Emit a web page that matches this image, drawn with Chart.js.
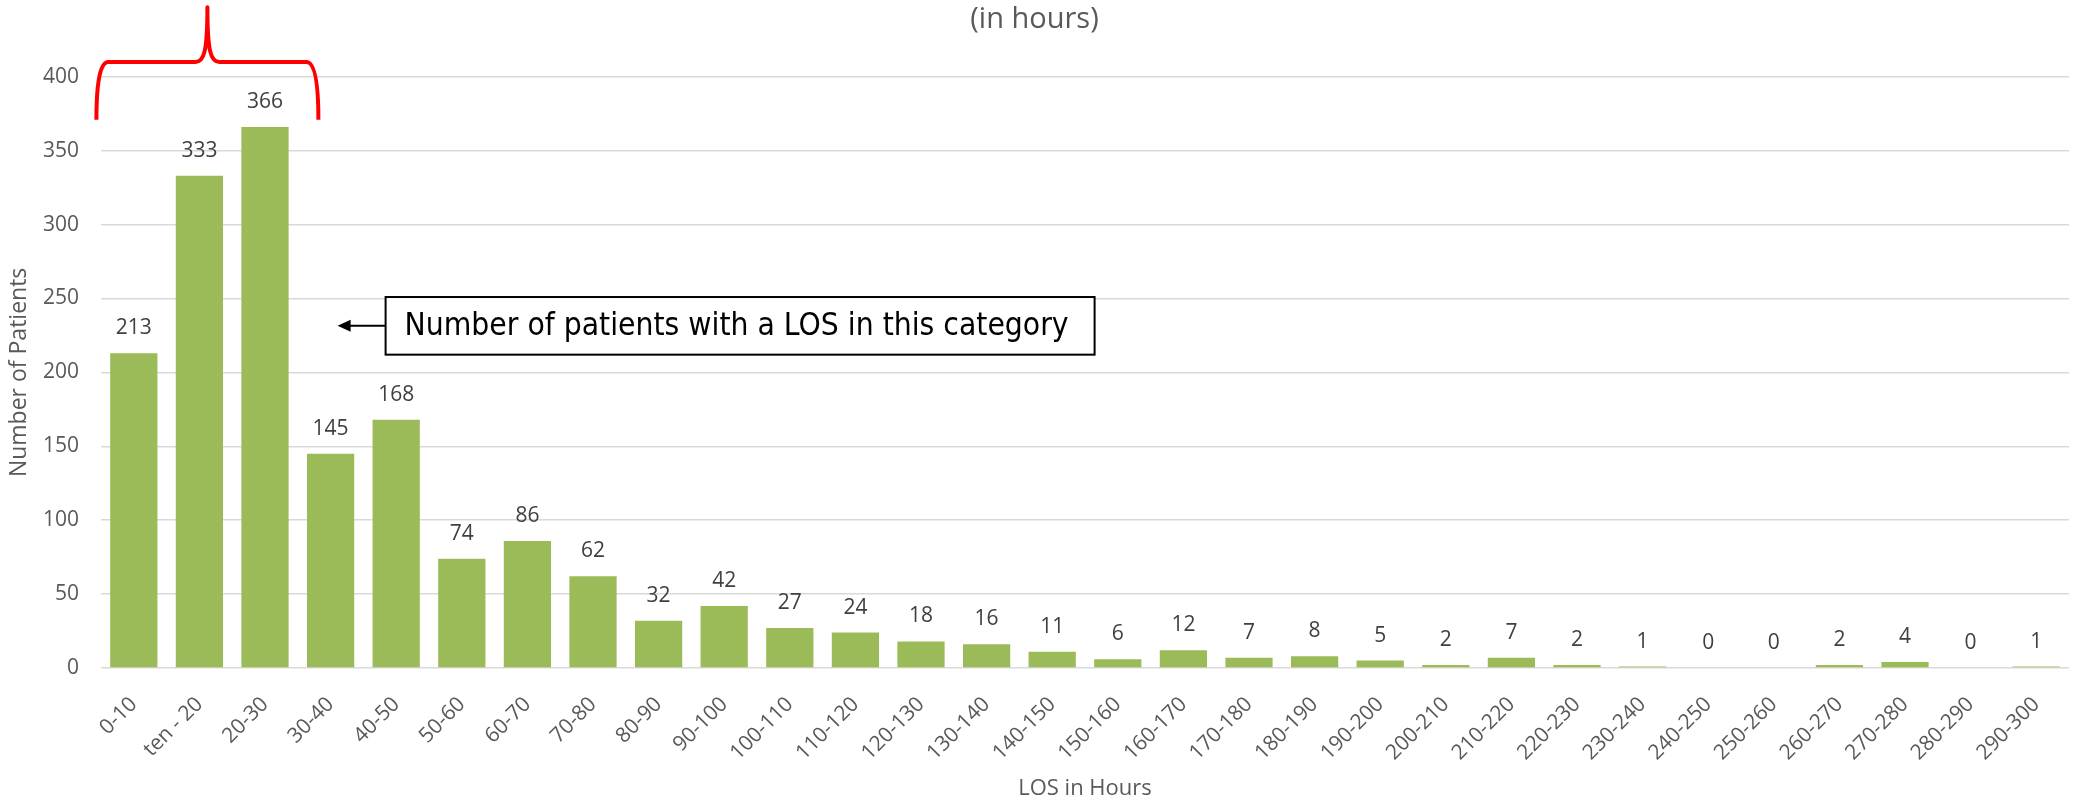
<!DOCTYPE html>
<html>
<head>
<meta charset="utf-8">
<script src="https://cdn.jsdelivr.net/npm/chart.js@4.4.1/dist/chart.umd.min.js"></script>
<style>
html, body { margin: 0; padding: 0; background: #fff; }
</style>
</head>
<body>
<canvas id="losChart" width="2078" height="803"></canvas>
<script>
// LOS categories (hours) and number of patients in each
const losLabels = ['0-10', 'ten - 20', '20-30', '30-40', '40-50', '50-60', '60-70', '70-80', '80-90', '90-100',
    '100-110', '110-120', '120-130', '130-140', '140-150', '150-160', '160-170', '170-180', '180-190', '190-200',
    '200-210', '210-220', '220-230', '230-240', '240-250', '250-260', '260-270', '270-280', '280-290', '290-300'];
const patientCounts = [213, 333, 366, 145, 168, 74, 86, 62, 32, 42,
    27, 24, 18, 16, 11, 6, 12, 7, 8, 5,
    2, 7, 2, 1, 0, 0, 2, 4, 0, 1];
const yMax = 400;
const yStep = 50;

const chartTitle = '(in hours)';
const xTitle = 'LOS in Hours';
const yTitle = 'Number of Patients';
const noteText = 'Number of patients with a LOS in this category';

const grey = '#595959';
const fontName = "'Open Sans', sans-serif";

// values over every bar
const barValues = {
    id: 'barValues',
    afterDatasetsDraw(chart) {
        const ctx = chart.ctx;
        const meta = chart.getDatasetMeta(0);
        ctx.save();
        ctx.font = '21px ' + fontName;
        ctx.fillStyle = '#404040';
        ctx.textAlign = 'center';
        ctx.textBaseline = 'alphabetic';
        meta.data.forEach((bar, i) => {
            ctx.fillText(String(patientCounts[i]), bar.x, bar.y - 19);
        });
        ctx.restore();
    }
};

// red brace over the first bars + note box with arrow
const notes = {
    id: 'notes',
    afterDraw(chart) {
        const ctx = chart.ctx;
        const x = chart.scales.x;
        const y = chart.scales.y;

        // brace
        const cx = x.getPixelForValue(1) + 8;
        const hw = 111;
        const yTip = y.getPixelForValue(447);
        const yMid = y.getPixelForValue(410);
        const yBot = y.getPixelForValue(371);
        const r = 12;
        ctx.save();
        ctx.strokeStyle = '#ff0000';
        ctx.lineWidth = 4;
        ctx.lineJoin = 'round';
        ctx.beginPath();
        ctx.moveTo(cx - hw, yBot);
        ctx.bezierCurveTo(cx - hw, yMid + 30, cx - hw + 2, yMid, cx - hw + r, yMid);
        ctx.lineTo(cx - r, yMid);
        ctx.bezierCurveTo(cx - 3, yMid, cx, yMid - 12, cx, yTip);
        ctx.bezierCurveTo(cx, yMid - 12, cx + 3, yMid, cx + r, yMid);
        ctx.lineTo(cx + hw - r, yMid);
        ctx.bezierCurveTo(cx + hw - 2, yMid, cx + hw, yMid + 30, cx + hw, yBot);
        ctx.stroke();
        ctx.restore();

        // note box
        const tipX = x.getPixelForValue(3) + 7;
        const boxL = tipX + 48;
        const boxW = 709;
        const boxT = y.getPixelForValue(251);
        const boxB = y.getPixelForValue(212);
        const midY = (boxT + boxB) / 2;
        ctx.save();
        ctx.fillStyle = '#fff';
        ctx.fillRect(boxL, boxT, boxW, boxB - boxT);
        ctx.strokeStyle = '#000';
        ctx.lineWidth = 2;
        ctx.strokeRect(boxL, boxT, boxW, boxB - boxT);

        // arrow
        ctx.beginPath();
        ctx.moveTo(boxL, midY);
        ctx.lineTo(tipX + 10, midY);
        ctx.stroke();
        ctx.fillStyle = '#000';
        ctx.beginPath();
        ctx.moveTo(tipX, midY);
        ctx.lineTo(tipX + 13, midY - 6);
        ctx.lineTo(tipX + 13, midY + 6);
        ctx.closePath();
        ctx.fill();

        // text, shrunk to fit the box
        let size = 34;
        ctx.font = size + "px 'DejaVu Sans Condensed', 'DejaVu Sans', sans-serif";
        while (ctx.measureText(noteText).width > boxW - 42 && size > 10) {
            size -= 0.5;
            ctx.font = size + "px 'DejaVu Sans Condensed', 'DejaVu Sans', sans-serif";
        }
        ctx.textAlign = 'left';
        ctx.textBaseline = 'middle';
        ctx.fillText(noteText, boxL + 19, midY + 1);
        ctx.restore();
    }
};

const ctx = document.getElementById('losChart').getContext('2d');
const losChart = new Chart(ctx, {
    type: 'bar',
    data: {
        labels: losLabels,
        datasets: [{
            label: 'Patients',
            data: patientCounts,
            backgroundColor: '#9bbb59',
            borderWidth: 0,
            barPercentage: 0.72,
            categoryPercentage: 1.0
        }]
    },
    options: {
        responsive: false,
        animation: false,
        devicePixelRatio: 1,
        layout: { padding: { left: 0, right: 9, top: 0, bottom: 0 } },
        plugins: {
            legend: { display: false },
            tooltip: { enabled: false },
            title: {
                display: true,
                text: chartTitle,
                color: grey,
                font: { family: fontName, size: 29, weight: 'normal' },
                padding: { top: 2, bottom: 40 }
            }
        },
        scales: {
            x: {
                grid: { display: false },
                border: { display: false },
                ticks: {
                    color: grey,
                    font: { family: fontName, size: 21 },
                    minRotation: 45,
                    maxRotation: 45,
                    padding: 16,
                    autoSkip: false
                },
                title: {
                    display: true,
                    text: xTitle,
                    color: grey,
                    font: { family: fontName, size: 22 },
                    padding: { top: 0, bottom: 1 }
                },
                afterFit(scale) { scale.height = 135; }
            },
            y: {
                min: 0,
                max: yMax,
                grid: { color: '#d9d9d9', lineWidth: 1.5, drawTicks: false },
                border: { display: false },
                ticks: {
                    stepSize: yStep,
                    color: grey,
                    font: { family: fontName, size: 21 },
                    padding: 22
                },
                title: {
                    display: true,
                    text: yTitle,
                    color: grey,
                    font: { family: fontName, size: 23 },
                    padding: { top: 6, bottom: 0 }
                },
                afterFit(scale) { scale.width = 101; }
            }
        }
    },
    plugins: [barValues, notes]
});
</script>
</body>
</html>
